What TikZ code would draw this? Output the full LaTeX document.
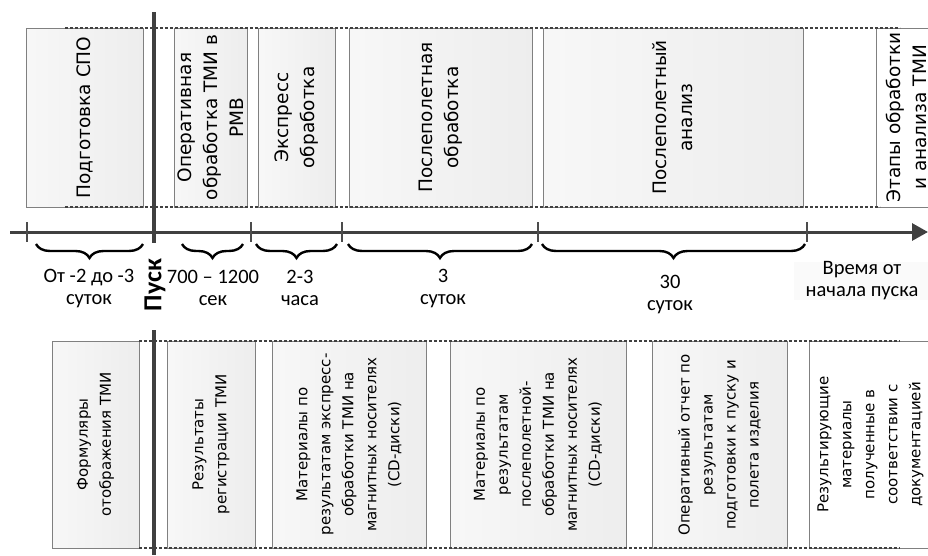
\documentclass[tikz,border=0pt]{standalone}
\usepackage{fontspec}
\setmainfont{DejaVu Sans}
\newfontfamily\lab{Carlito}
\usetikzlibrary{arrows.meta,decorations.pathreplacing}
\begin{document}
\begin{tikzpicture}[x=1pt,y=-1pt,
  boxg/.style={draw=black!50,line width=0.9pt,left color=black!3,right color=black!7,inner sep=0},
  boxw/.style={draw=black!50,line width=0.9pt,fill=white,inner sep=0},
  dsh/.style={draw=black!75,line width=1.4pt,dash pattern=on 3pt off 2pt},
  ttext/.style={rotate=90,align=center,font=\fontsize{18.5}{26}\selectfont,inner sep=0},
  btext/.style={rotate=90,align=center,font=\fontsize{15}{23}\selectfont,inner sep=0},
  lbl/.style={align=center,font=\lab\fontsize{20.5}{22}\selectfont,inner sep=0},
  brc/.style={decorate,decoration={brace,mirror,amplitude=14pt},line width=2.4pt},
  tck/.style={line width=1.4pt,draw=black!70},
  tallbox/.style={minimum height=179pt},
  lowbox/.style={minimum height=207pt},
]
\useasboundingbox (0,0) rectangle (928,555);
\clip (0,0) rectangle (928,555);

% top boxes
\node[boxg,tallbox,minimum width=117pt] (t1) at (84.5,117.5) {};
\node[boxg,tallbox,minimum width=73pt] (t2) at (210.5,117.5) {};
\node[boxg,tallbox,minimum width=77pt] (t3) at (296.5,117.5) {};
\node[boxg,tallbox,minimum width=183pt] (t4) at (440.5,117.5) {};
\node[boxg,tallbox,minimum width=260pt] (t5) at (673,117.5) {};
\node[boxw,tallbox,minimum width=60pt] (t6) at (906,117.5) {};
\node[ttext] (tt1) at (t1) {Подготовка СПО};
\node[ttext] (tt2) at (t2) {Оперативная\\обработка ТМИ в\\РМВ};
\node[ttext] (tt3) at (t3) {Экспресс\\обработка};
\node[ttext] (tt4) at (t4) {Послеполетная\\обработка};
\node[ttext] (tt5) at (t5) {Послеполетный\\анализ};
\node[ttext] (tt6) at (t6) {Этапы обработки\\и анализа ТМИ};

% bottom boxes
\node[boxg,lowbox,minimum width=87pt] (b1) at (95.5,444.5) {};
\node[boxg,lowbox,minimum width=88pt] (b2) at (211,444.5) {};
\node[boxg,lowbox,minimum width=154pt] (b3) at (349,444.5) {};
\node[boxg,lowbox,minimum width=176pt] (b4) at (538,444.5) {};
\node[boxg,lowbox,minimum width=135pt] (b5) at (719.5,445) {};
\node[boxw,lowbox,minimum width=123pt] (b6) at (870.5,444.5) {};
\node[btext] (bt1) at (b1) {Формуляры\\отображения ТМИ};
\node[btext] (bt2) at (b2) {Результаты\\регистрации ТМИ};
\node[btext] (bt3) at (b3) {Материалы по\\результатам экспресс-\\обработки ТМИ на\\магнитных носителях\\(CD-диски)};
\node[btext] (bt4) at (b4) {Материалы по\\результатам\\послеполетной-\\обработки ТМИ на\\магнитных носителях\\(CD-диски)};
\node[btext] (bt5) at (b5) {Оперативный отчет по\\результатам\\подготовки к пуску и\\полета изделия};
\node[btext] (bt6) at (b6) {Результирующие\\материалы\\полученные в\\соответствии с\\документацией};

% dashed band lines
\coordinate (da1) at (65,28);  \coordinate (da2) at (900,28);
\coordinate (db1) at (65,207); \coordinate (db2) at (880,207);
\coordinate (dc1) at (139,341); \coordinate (dc2) at (900,341);
\coordinate (dd1) at (139,548); \coordinate (dd2) at (900,548);
\draw[dsh] (da1) -- (da2);
\draw[dsh] (db1) -- (db2);
\draw[dsh] (dc1) -- (dc2);
\draw[dsh] (dd1) -- (dd2);

% time axis
\coordinate (ax0) at (10,232);
\coordinate (ax1) at (928,232);
\draw[line width=3pt,draw=black!75,-{Triangle[length=16pt,width=17pt]}] (ax0) -- (ax1);
\foreach \x/\n in {27/k1,251/k2,342/k3,538/k4,807/k5}{
  \coordinate (\n a) at (\x,222); \coordinate (\n b) at (\x,242);
  \draw[tck] (\n a) -- (\n b);
}

% launch line
\coordinate (p1) at (154,12);  \coordinate (p2) at (154,243);
\coordinate (p3) at (154,330); \coordinate (p4) at (154,555);
\draw[line width=4.5pt,draw=black!75] (p1) -- (p2);
\draw[line width=4.5pt,draw=black!75] (p3) -- (p4);
\node[rotate=90,font=\lab\bfseries\fontsize{26}{28}\selectfont,inner sep=0] (pusk) at (155,285) {Пуск};

% braces
\foreach \a/\b/\n in {36/143/r1,182/243/r2,256/337/r3,348/532/r4,542/805/r5}{
  \coordinate (\n a) at (\a,244); \coordinate (\n b) at (\b,244);
  \draw[brc] (\n a) -- (\n b);
}

% labels
\node[lbl] (l1) at (89,288) {От -2 до -3\\суток};
\node[lbl] (l2) at (213,288) {700 – 1200\\сек};
\node[lbl] (l3) at (300,288) {2-3\\часа};
\node[lbl] (l4) at (443,288) {3\\суток};
\node[lbl] (l5) at (670,294) {30\\суток};
\node[lbl,fill=black!2,minimum width=136pt,minimum height=38pt] (l6) at (862,281) {Время от\\начала пуска};
\end{tikzpicture}
\end{document}
